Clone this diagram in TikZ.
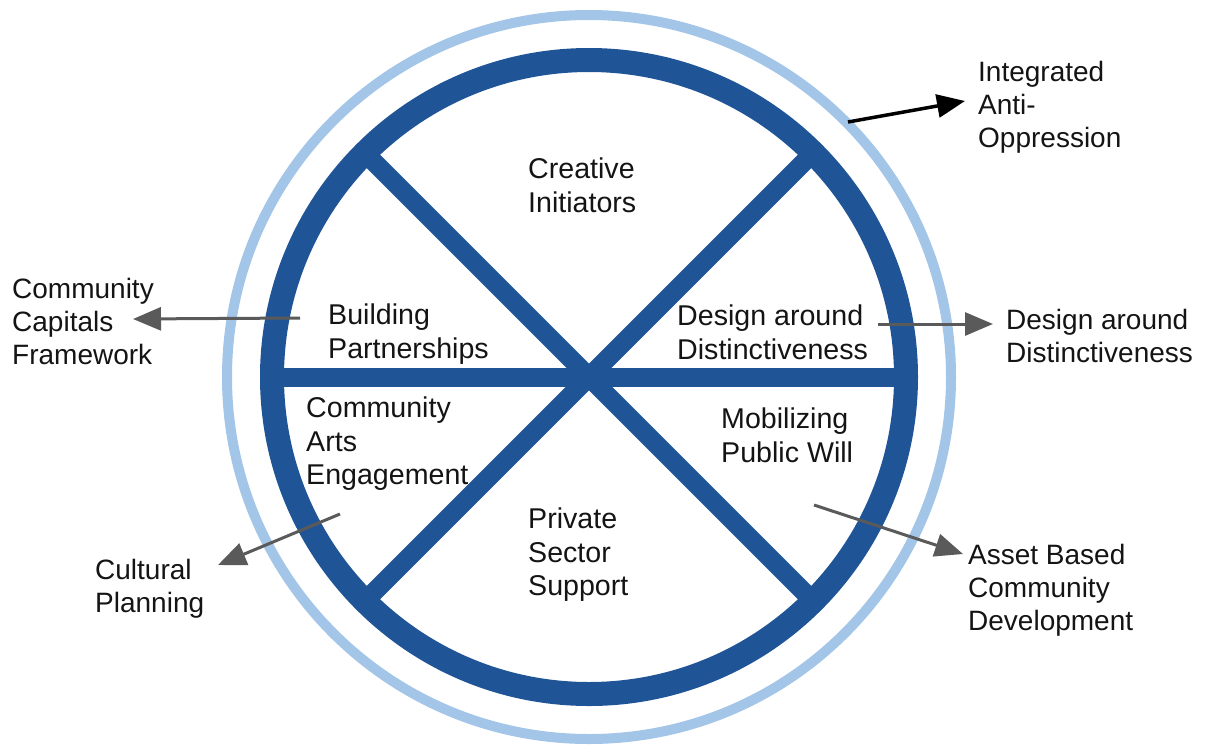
\documentclass[tikz,border=0pt]{standalone}
\usepackage{fontspec}
\setmainfont{Liberation Sans}
\usetikzlibrary{arrows.meta,calc}
\definecolor{darkblue}{RGB}{31,85,151}
\definecolor{lightblue}{RGB}{163,197,232}
\definecolor{arrowgray}{RGB}{90,90,90}
\definecolor{txt}{RGB}{20,20,20}
\begin{document}
\begin{tikzpicture}[x=1pt,y=-1pt,
  lbl/.style={anchor=north west,inner sep=0pt,align=left,text=txt,
    font=\fontsize{28}{33.2}\selectfont},
  inlbl/.style={lbl,font=\fontsize{28.6}{33.5}\selectfont},
  spoke/.style={draw=darkblue,line width=19pt},
  grayarr/.style={draw=arrowgray,line width=3pt,-{Triangle[length=28pt,width=23pt]},arrowgray},
  blackarr/.style={draw=black,line width=3.5pt,-{Triangle[length=28pt,width=23pt]},black}]
\useasboundingbox (0,0) rectangle (1207,748);
\coordinate (c) at (589,377);
% rings
\draw[lightblue,line width=10pt] (c) circle[radius=362pt];
% spokes
\draw[spoke] ($(c)+(-317,0)$) -- ($(c)+(317,0)$);
\draw[spoke] ($(c)+(-224.2,-224.2)$) -- ($(c)+(224.2,224.2)$);
\draw[spoke] ($(c)+(224.2,-224.2)$) -- ($(c)+(-224.2,224.2)$);
\draw[darkblue,line width=24pt] (c) circle[radius=317pt];
% inner labels
\node[inlbl] (ci) at (528,158) {Creative\\Initiators};
\node[inlbl] (bp) at (328,304) {Building\\Partnerships};
\node[inlbl] (dai) at (677,305) {Design around\\Distinctiveness};
\node[inlbl] (cae) at (306,397) {Community\\Arts\\Engagement};
\node[inlbl] (mpw) at (721,408) {Mobilizing\\Public Will};
\node[inlbl] (pss) at (528,508) {Private\\Sector\\Support};
% outer labels
\node[lbl] (iao) at (978,61) {Integrated\\Anti-\\Oppression};
\node[lbl] (ccf) at (12,278) {Community\\Capitals\\Framework};
\node[lbl] (dao) at (1006,309) {Design around\\Distinctiveness};
\node[lbl] (cp) at (95,559) {Cultural\\Planning};
\node[lbl] (abc) at (968,544) {Asset Based\\Community\\Development};
% arrow ends
\coordinate (s1) at (848,122); \coordinate (t1) at (965,101);
\coordinate (s2) at (300,318); \coordinate (t2) at (133,319);
\coordinate (s3) at (878,324); \coordinate (t3) at (993,324);
\coordinate (s4) at (340,514); \coordinate (t4) at (218,565);
\coordinate (s5) at (814,505); \coordinate (t5) at (963,554);
\draw[blackarr] (s1) -- (t1);
\draw[grayarr] (s2) -- (t2);
\draw[grayarr] (s3) -- (t3);
\draw[grayarr] (s4) -- (t4);
\draw[grayarr] (s5) -- (t5);
\end{tikzpicture}
\end{document}
